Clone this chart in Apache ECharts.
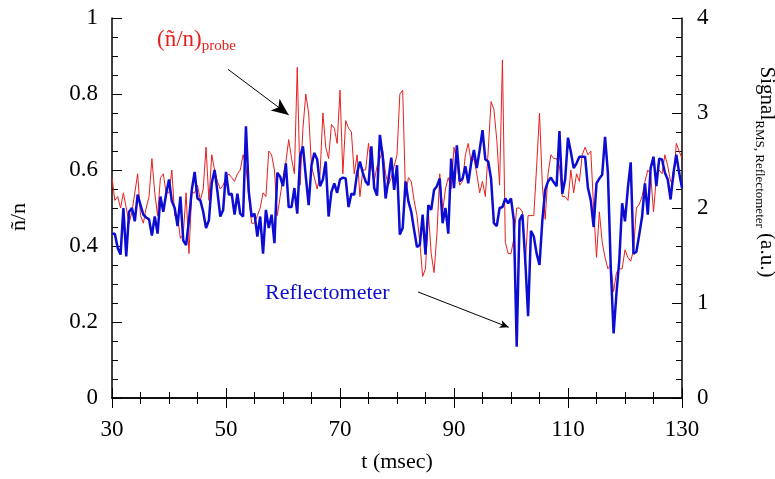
<!DOCTYPE html>
<html><head><meta charset="utf-8">
<script src="https://cdn.jsdelivr.net/npm/echarts@6/dist/echarts.min.js"></script>
<style>html,body{margin:0;padding:0;background:#fff}#c{width:775px;height:479px}</style>
</head><body><div id="c"></div>
<script>
// sampling of the time axis (msec)
const tStart = 30, tStep = 0.5;
// (ñ/n)_probe, left axis
const probe = [
0.58,0.52,0.53,0.50,0.54,0.50,0.46,0.49,0.54,0.59,0.48,0.46,0.50,0.53,0.63,0.54,0.48,0.58,0.59,0.54,0.54,0.60,0.48,0.48,0.42,0.43,0.54,0.38,0.54,0.54,0.56,0.52,0.55,0.66,0.52,0.64,
0.60,0.57,0.55,0.56,0.58,0.59,0.58,0.57,0.59,0.60,0.64,0.61,0.53,0.46,0.46,0.48,0.50,0.54,0.53,0.65,0.64,0.60,0.48,0.53,0.58,0.62,0.68,0.63,0.59,0.87,0.56,0.71,0.80,0.75,0.61,
0.58,0.55,0.59,0.75,0.66,0.63,0.72,0.71,0.67,0.81,0.59,0.73,0.71,0.70,0.59,0.64,0.53,0.60,0.60,0.67,0.61,0.57,0.61,0.63,0.65,0.59,0.56,0.58,0.61,0.64,0.80,0.81,0.53,0.58,0.57,
0.52,0.48,0.41,0.32,0.34,0.49,0.38,0.33,0.43,0.59,0.49,0.55,0.58,0.55,0.66,0.62,0.56,0.57,0.64,0.67,0.62,0.63,0.59,0.54,0.57,0.53,0.65,0.78,0.76,0.68,0.56,0.89,0.41,0.38,
0.38,0.42,0.50,0.50,0.49,0.35,0.48,0.48,0.48,0.61,0.75,0.56,0.47,0.59,0.64,0.63,0.63,0.61,0.53,0.53,0.52,0.60,0.54,0.59,0.57,0.64,0.66,0.64,0.65,0.50,0.37,0.49,0.41,0.37,0.34,0.35,
0.28,0.33,0.34,0.34,0.39,0.37,0.36,0.39,0.50,0.51,0.53,0.57,0.60,0.59,0.49,0.58,0.60,0.59,0.64,0.61,0.57,0.57,0.67,0.65,0.63
];
// Signal RMS, Reflectometer (a.u.), right axis
const reflectometer = [
1.73,1.73,1.58,1.51,2.00,1.49,1.96,2.00,1.86,2.14,2.03,1.93,1.90,1.88,1.71,1.91,1.73,2.12,1.96,2.15,2.30,2.07,2.00,1.81,2.12,1.66,1.61,1.87,2.19,2.38,2.10,2.08,1.96,1.79,1.87,
2.26,2.40,2.17,1.91,1.98,2.38,2.14,2.15,1.93,2.15,1.94,1.91,2.86,2.17,1.91,1.94,1.70,1.91,1.52,1.98,1.79,1.93,1.63,2.37,2.33,2.23,2.47,2.01,2.01,2.21,1.94,2.54,2.65,2.33,2.03,
2.45,2.58,2.51,2.23,2.30,2.49,1.91,2.17,2.26,2.16,2.30,2.32,2.31,2.01,2.15,2.14,2.37,2.49,2.37,2.28,2.24,2.65,2.21,2.13,2.77,2.54,2.10,2.30,2.53,2.19,2.45,1.72,1.79,2.28,2.07,
1.96,1.77,1.59,1.61,1.93,1.51,2.03,1.98,2.19,2.23,2.31,1.84,2.00,1.73,2.52,2.21,2.66,2.28,2.31,2.44,2.26,2.47,2.61,2.42,2.61,2.82,2.51,2.49,2.31,1.84,1.81,2.00,2.01,2.10,2.05,
2.10,1.87,0.54,1.87,1.93,1.45,0.86,1.76,1.70,1.52,1.40,1.87,2.19,2.28,2.32,2.27,2.23,2.81,2.15,2.30,2.74,2.59,2.42,2.47,2.54,2.54,2.54,2.21,2.08,1.80,2.26,2.31,2.35,2.75,2.37,1.38,
0.68,1.10,1.45,2.05,1.86,2.21,2.48,1.52,1.54,1.72,1.91,2.26,1.93,2.42,2.54,2.23,2.52,2.51,2.37,2.30,2.09,2.37,2.56,2.37,2.21
];
// axis ranges / ticks
const xRange = [30, 130], xInterval = 20;
const yLeftRange = [0, 1], yLeftInterval = 0.2;
const yRightRange = [0, 4], yRightInterval = 1;

const toPairs = arr => arr.map((v, i) => [tStart + i * tStep, v]);
const FONT = 'Liberation Serif';
const RED = '#e8201e', BLUE = '#0c0cd2';

const axisLine = {show: true, lineStyle: {color: '#000', width: 1.5}};
const tick = {show: true, inside: true, length: 10, lineStyle: {color: '#000', width: 1}};
const minor = n => ({show: true, splitNumber: n, length: 6, lineStyle: {color: '#000', width: 1}});
const lab = m => ({margin: m, color: '#000', fontFamily: FONT, fontSize: 23});

const chart = echarts.init(document.getElementById('c'), null, {renderer: 'canvas'});
chart.setOption({
  animation: false,
  backgroundColor: '#fff',
  grid: {left: 112, right: 93, top: 18, bottom: 81},
  xAxis: [
    {type: 'value', min: xRange[0], max: xRange[1], interval: xInterval, position: 'bottom',
     axisLine, axisTick: tick, minorTick: minor(4), splitLine: {show: false}, axisLabel: lab(20),
     name: 't (msec)', nameLocation: 'middle', nameGap: 53,
     nameTextStyle: {color: '#000', fontFamily: FONT, fontSize: 22}},
    {type: 'value', min: xRange[0], max: xRange[1], interval: xInterval, position: 'top',
     axisLine, axisTick: tick, minorTick: minor(4), splitLine: {show: false}, axisLabel: {show: false}}
  ],
  yAxis: [
    {type: 'value', min: yLeftRange[0], max: yLeftRange[1], interval: yLeftInterval, position: 'left',
     axisLine, axisTick: tick, minorTick: minor(4), splitLine: {show: false}, axisLabel: lab(14),
     name: 'ñ/n', nameLocation: 'middle', nameRotate: 90, nameGap: 82,
     nameTextStyle: {color: '#000', fontFamily: FONT, fontSize: 22, padding: [0, 18, 0, 0]}},
    {type: 'value', min: yRightRange[0], max: yRightRange[1], interval: yRightInterval, position: 'right',
     axisLine, axisTick: tick, minorTick: minor(5), splitLine: {show: false}, axisLabel: lab(15)}
  ],
  series: [
    {name: 'probe', type: 'line', xAxisIndex: 0, yAxisIndex: 0, data: toPairs(probe),
     symbol: 'none', showSymbol: false, lineStyle: {color: RED, width: 1}, itemStyle: {color: RED},
     emphasis: {disabled: true}, z: 2,
     markLine: {silent: true, animation: false, label: {show: false}, emphasis: {disabled: true},
       symbol: ['none', 'arrow'],
       lineStyle: {color: '#000', width: 1, type: 'solid'},
       data: [
         [{coord: [50.35, 0.865]}, {coord: [61.0, 0.745], symbol: 'arrow', symbolSize: [11, 17]}],
         [{coord: [83.7, 0.279]}, {coord: [99.6, 0.186], symbol: 'arrow', symbolSize: [6, 9]}]
       ]}},
    {name: 'reflectometer', type: 'line', xAxisIndex: 0, yAxisIndex: 1, data: toPairs(reflectometer),
     symbol: 'none', showSymbol: false, lineStyle: {color: BLUE, width: 2.5}, itemStyle: {color: BLUE},
     emphasis: {disabled: true}, z: 3}
  ],
  graphic: [
    {type: 'text', left: 157, top: 22, silent: true,
     style: {text: '{m|(ñ/n)}{s|probe}', fill: RED,
       rich: {m: {fontFamily: FONT, fontSize: 23, fill: RED, lineHeight: 26, verticalAlign: 'top'},
              s: {fontFamily: FONT, fontSize: 15, fill: RED, lineHeight: 15, padding: [17, 0, 0, 0], verticalAlign: 'bottom'}}}},
    {type: 'text', left: 265, top: 281, silent: true,
     style: {text: 'Reflectometer', fill: BLUE, fontFamily: FONT, fontSize: 22, lineHeight: 25}},
    {type: 'text', x: 765, y: 172, rotation: -Math.PI / 2, silent: true,
     style: {text: '{m|Signal}{s|RMS, Reflectometer}{m| (a.u.)}', fill: '#000',
       align: 'center', verticalAlign: 'middle', textAlign: 'center', textVerticalAlign: 'middle',
       rich: {m: {fontFamily: FONT, fontSize: 21, fill: '#000', lineHeight: 24, verticalAlign: 'top'},
              s: {fontFamily: FONT, fontSize: 13, fill: '#000', lineHeight: 13, padding: [16, 0, 0, 0], verticalAlign: 'bottom'}}}}
  ]
});
</script></body></html>
